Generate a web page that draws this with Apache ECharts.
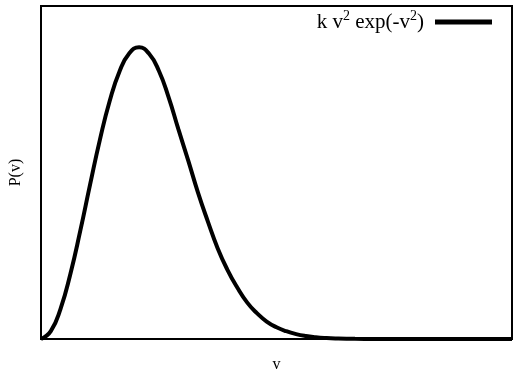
<!DOCTYPE html>
<html>
<head>
<meta charset="utf-8">
<script src="https://cdn.jsdelivr.net/npm/echarts@6/dist/echarts.min.js"></script>
<style>
  html, body { margin: 0; padding: 0; background: #fff; }
  #chart { width: 514px; height: 370px; }
</style>
</head>
<body>
<div id="chart"></div>
<script>
// Speed values v and the distribution P(v) = k v^2 exp(-v^2) sampled along the curve
const speeds = [0, 0.1, 0.2, 0.3, 0.4, 0.5, 0.6, 0.7, 0.8, 0.9, 1.0, 1.1, 1.2, 1.3, 1.4, 1.5,
  1.6, 1.7, 1.8, 1.9, 2.0, 2.1, 2.2, 2.3, 2.4, 2.5, 2.6, 2.7, 2.8, 2.9, 3.0, 3.2, 3.4, 3.6,
  3.8, 4.0, 4.4, 4.8];
const density = [0, 0.0099, 0.0384, 0.0823, 0.1363, 0.1947, 0.2512, 0.3002, 0.3375, 0.3603,
  0.3679, 0.3600, 0.3387, 0.3051, 0.2646, 0.2253, 0.1846, 0.1484, 0.1146, 0.0873, 0.0649,
  0.0462, 0.0326, 0.0220, 0.0148, 0.0098, 0.0062, 0.0038, 0.0023, 0.0013, 0.0007, 0.0002,
  0.0001, 0, 0, 0, 0, 0];
const seriesName = 'P';

const points = speeds.map((v, i) => [v, density[i]]);

const chart = echarts.init(document.getElementById('chart'));
chart.setOption({
  animation: false,
  textStyle: { fontFamily: 'Liberation Serif' },
  grid: {
    left: 41, right: 2, top: 6, bottom: 31,
    outerBoundsMode: 'none',
    show: true, borderColor: '#000', borderWidth: 2, backgroundColor: '#fff'
  },
  legend: {
    top: 4, right: 17,
    align: 'right',
    itemWidth: 57, itemHeight: 5, itemGap: 10,
    icon: 'rect',
    data: [{ name: seriesName, itemStyle: { color: '#000' } }],
    formatter: () => '{a|k v}{s|2}{a| exp(-v}{s|2}{b|)}',
    textStyle: {
      rich: {
        a: { fontFamily: 'Liberation Serif', fontSize: 21, color: '#000' },
        b: { fontFamily: 'Liberation Serif', fontSize: 21, color: '#000', padding: [0, 6, 0, 0] },
        s: { fontFamily: 'Liberation Serif', fontSize: 14, color: '#000', verticalAlign: 'top', padding: [0, 0, 12, 0] }
      }
    }
  },
  xAxis: {
    type: 'value', min: 0, max: 4.8,
    name: 'v', nameLocation: 'middle', nameGap: 18,
    nameTextStyle: { fontFamily: 'Liberation Serif', fontSize: 16, color: '#000' },
    axisLine: { show: false }, axisTick: { show: false },
    axisLabel: { show: false }, splitLine: { show: false }
  },
  yAxis: {
    type: 'value', min: 0, max: 0.42,
    name: 'P(v)', nameLocation: 'middle', nameGap: 17, nameRotate: 90,
    nameTextStyle: { fontFamily: 'Liberation Serif', fontSize: 16, color: '#000' },
    axisLine: { show: false }, axisTick: { show: false },
    axisLabel: { show: false }, splitLine: { show: false }
  },
  series: [{
    name: seriesName,
    type: 'line',
    data: points,
    smooth: true,
    showSymbol: false,
    lineStyle: { color: '#000', width: 4 },
    itemStyle: { color: '#000' }
  }]
});
</script>
</body>
</html>
